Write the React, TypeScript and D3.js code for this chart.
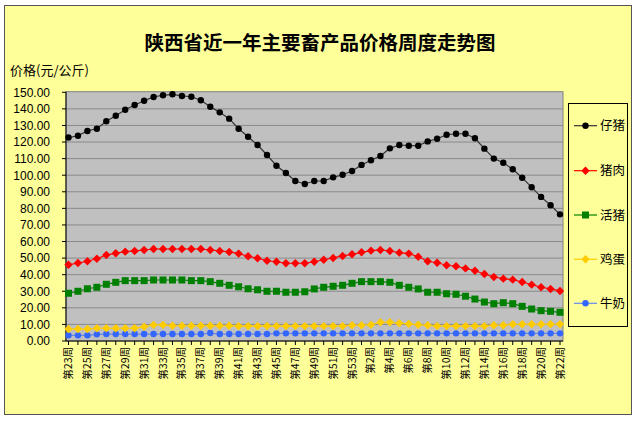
import React from "react";
import * as d3 from "d3";

const weeks: string[] = [
  ...d3.range(23, 54).map((w) => `第${w}周`),
  ...d3.range(1, 23).map((w) => `第${w}周`),
];

const piglet: number[] = [
  122.7, 123.8, 126.7, 128.0, 132.5, 135.9, 139.5, 142.3, 144.9, 147.2,
  148.2, 148.8, 147.8, 147.3, 145.2, 141.3, 137.9, 134.1, 128.0, 123.2,
  118.2, 112.2, 105.7, 101.3, 96.5, 94.7, 96.5, 96.5, 98.7, 100.3,
  102.5, 106.2, 109.0, 111.6, 116.2, 118.2, 117.8, 117.8, 120.4, 122.0,
  124.4, 125.0, 125.0, 122.3, 116.0, 110.0, 107.5, 103.6, 98.5, 92.7,
  86.9, 81.9, 76.4,
];

const pork: number[] = [
  46.0, 47.0, 48.1, 49.6, 51.9, 52.9, 53.9, 54.3, 54.9, 55.5,
  55.5, 55.5, 55.5, 55.5, 55.5, 54.9, 54.3, 53.7, 52.7, 51.1,
  49.9, 48.4, 47.8, 46.9, 46.9, 46.9, 47.8, 49.0, 50.1, 51.3,
  52.3, 53.5, 54.5, 54.9, 54.3, 53.3, 52.7, 50.8, 48.1, 47.2,
  45.7, 45.1, 43.8, 42.4, 40.4, 38.6, 37.6, 37.0, 35.6, 34.0,
  32.4, 31.4, 30.2,
];

const livePig: number[] = [
  28.8, 30.0, 31.5, 32.4, 34.2, 35.4, 36.4, 36.4, 36.4, 36.8,
  36.8, 36.8, 36.8, 36.4, 36.4, 35.8, 34.8, 33.6, 32.7, 31.5,
  30.9, 30.0, 30.0, 29.4, 29.4, 29.7, 31.4, 32.4, 33.0, 33.6,
  34.8, 35.8, 35.8, 35.8, 35.4, 33.6, 32.4, 31.4, 29.4, 29.4,
  28.5, 28.2, 27.0, 25.3, 23.5, 22.5, 23.1, 22.5, 20.9, 19.3,
  18.3, 17.9, 17.3,
];

const eggs: number[] = [
  7.2, 7.2, 7.2, 7.7, 7.7, 7.7, 7.7, 7.7, 8.6, 9.7,
  9.7, 9.2, 9.2, 9.2, 9.2, 9.2, 9.2, 9.2, 9.0, 9.0,
  9.0, 9.0, 9.0, 9.0, 9.0, 9.0, 9.0, 9.0, 9.0, 9.0,
  9.5, 9.5, 9.8, 11.3, 11.3, 10.7, 10.3, 9.8, 9.5, 9.0,
  9.0, 9.0, 9.0, 9.0, 9.0, 9.5, 9.5, 10.1, 10.1, 10.1,
  10.1, 10.1, 10.1,
];

const milk: number[] = [
  3.4, 3.4, 3.4, 4.0, 4.2, 4.2, 4.2, 4.2, 4.2, 4.2,
  4.2, 4.2, 4.2, 4.2, 4.2, 4.8, 4.2, 4.2, 4.2, 4.2,
  4.2, 4.2, 4.6, 4.6, 4.6, 4.6, 4.6, 4.6, 4.6, 4.6,
  4.6, 4.6, 4.6, 4.6, 4.6, 4.6, 4.6, 4.6, 4.6, 4.6,
  4.6, 4.6, 4.6, 4.6, 4.6, 4.6, 4.6, 4.6, 4.6, 4.6,
  4.6, 4.6, 4.6,
];

const yTicks: number[] = d3.range(0, 151, 10);

const seriesNames = ["仔猪", "猪肉", "活猪", "鸡蛋", "牛奶"];

type Marker = "circle" | "diamond" | "square";
const series = [
  { name: seriesNames[0], values: piglet, line: "#333333", fill: "#000000", marker: "circle" as Marker },
  { name: seriesNames[1], values: pork, line: "#FF0000", fill: "#FF0000", marker: "diamond" as Marker },
  { name: seriesNames[2], values: livePig, line: "#008000", fill: "#008000", marker: "square" as Marker },
  { name: seriesNames[3], values: eggs, line: "#FFCC00", fill: "#FFCC00", marker: "diamond" as Marker },
  { name: seriesNames[4], values: milk, line: "#6688EE", fill: "#3366FF", marker: "circle" as Marker },
];

const W = 640;
const H = 421;
const plot = { left: 66, right: 563, top: 91.7, bottom: 341 };

function MarkerShape({ type, x, y, fill }: { type: Marker; x: number; y: number; fill: string }) {
  if (type === "circle") return <circle cx={x} cy={y} r={3.2} fill={fill} />;
  if (type === "square") return <rect x={x - 3.5} y={y - 3.5} width={7} height={7} fill={fill} />;
  return <path d={`M${x},${y - 4.2}L${x + 4.2},${y}L${x},${y + 4.2}L${x - 4.2},${y}Z`} fill={fill} />;
}

export default function App() {
  const x = d3.scaleLinear().domain([0, weeks.length - 1]).range([68.5, 560]);
  const y = d3.scaleLinear().domain([0, 150]).range([plot.bottom, 92.3]);
  const line = d3
    .line<number>()
    .x((_, i) => x(i))
    .y((d) => y(d));

  const legendY = [125.7, 170.7, 215, 259.3, 303.3];

  return (
    <svg
      width={W}
      height={H}
      style={{ position: "absolute", left: 0, top: 0, background: "#ffffff" }}
    >
      <rect x={4.5} y={5.5} width={627} height={409} fill="#FFFF99" stroke="#555555" strokeWidth={1} />
      <text
        x={320}
        y={50}
        textAnchor="middle"
        fontSize={19.5}
        fontWeight="bold"
        fontFamily="'Noto Sans CJK SC', sans-serif"
        fill="#000"
      >
        陕西省近一年主要畜产品价格周度走势图
      </text>
      <text x={10} y={75} fontSize={13} fontFamily="'Noto Sans CJK SC', sans-serif" fill="#000">
        价格(元/公斤)
      </text>

      {/* plot area */}
      <rect
        x={plot.left}
        y={plot.top}
        width={plot.right - plot.left}
        height={plot.bottom - plot.top}
        fill="#C0C0C0"
        stroke="#808080"
      />
      {yTicks.map((t) => (
        <g key={t}>
          {t > 0 && t < 150 && (
            <line x1={plot.left} x2={plot.right} y1={y(t)} y2={y(t)} stroke="#8a8a8a" strokeWidth={1} />
          )}
          <line x1={plot.left - 4} x2={plot.left} y1={y(t)} y2={y(t)} stroke="#000" />
          <text
            x={50}
            y={y(t) + 4.3}
            textAnchor="end"
            fontSize={12}
            fontFamily="'Liberation Sans', Arial, sans-serif"
            fill="#000"
          >
            {t.toFixed(2)}
          </text>
        </g>
      ))}
      <line x1={plot.left} x2={plot.left} y1={plot.top} y2={plot.bottom} stroke="#000" />
      <line x1={plot.left} x2={plot.right} y1={plot.bottom} y2={plot.bottom} stroke="#000" />
      {weeks.map((w, i) => (
        <g key={w + i}>
          <line x1={x(i)} x2={x(i)} y1={plot.bottom} y2={plot.bottom + 4} stroke="#000" />
          {i % 2 === 0 && (
            <text
              transform={`translate(${x(i) + 3.5},347) rotate(-90)`}
              textAnchor="end"
              fontSize={10.5}
              fontFamily="'Noto Sans CJK SC', sans-serif"
              fill="#000"
            >
              {w}
            </text>
          )}
        </g>
      ))}

      {series
        .slice()
        .reverse()
        .map((s) => (
          <g key={s.name}>
            <path d={line(s.values) || ""} fill="none" stroke={s.line} strokeWidth={1.2} />
            {s.values.map((v, i) => (
              <MarkerShape key={i} type={s.marker} x={x(i)} y={y(v)} fill={s.fill} />
            ))}
          </g>
        ))}

      {/* legend */}
      <rect x={568.5} y={103.5} width={59} height={223} fill="#FFFF99" stroke="#000" />
      {series.map((s, i) => (
        <g key={s.name}>
          <line x1={574} x2={597} y1={legendY[i]} y2={legendY[i]} stroke={s.line} strokeWidth={1.2} />
          <MarkerShape type={s.marker} x={585.5} y={legendY[i]} fill={s.fill} />
          <text
            x={600}
            y={legendY[i] + 4.5}
            fontSize={12.5}
            fontFamily="'Noto Sans CJK SC', sans-serif"
            fill="#000"
          >
            {s.name}
          </text>
        </g>
      ))}
    </svg>
  );
}
